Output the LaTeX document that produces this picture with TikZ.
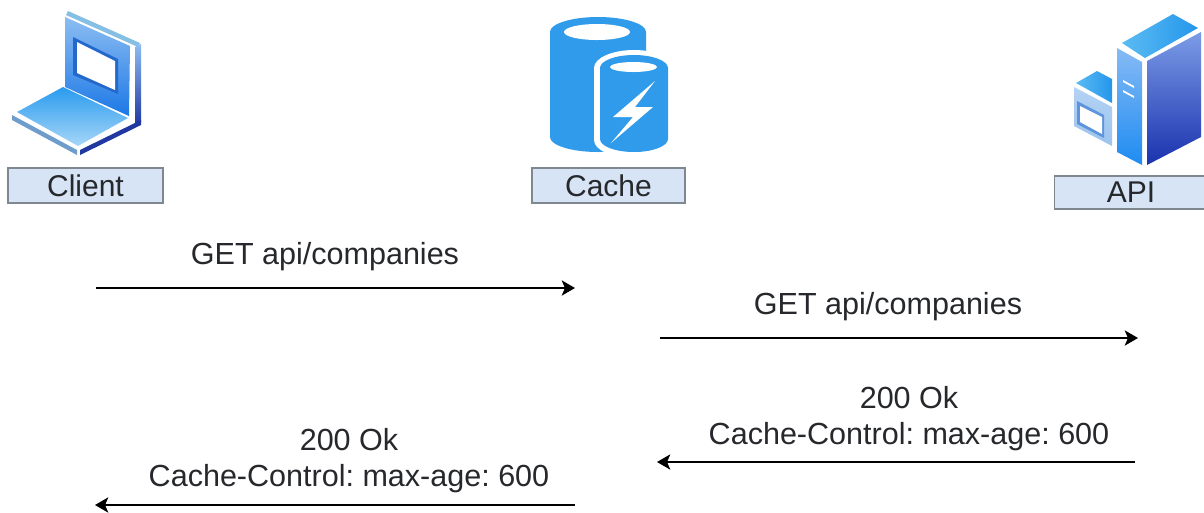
\documentclass[tikz,border=0pt]{standalone}
\usepackage{fontspec}
\setmainfont{Liberation Sans}
\usetikzlibrary{arrows.meta}
\frenchspacing
\definecolor{lbl}{HTML}{D6E4F6}
\definecolor{lblb}{HTML}{7F8890}
\definecolor{ink}{HTML}{26282C}
\definecolor{cyl}{HTML}{2F9BEA}
\definecolor{pantop}{HTML}{8CBDF2}
\definecolor{panbot}{HTML}{1C78E6}
\definecolor{winedge}{HTML}{2468CC}
\definecolor{keytop}{HTML}{2A9BEE}
\definecolor{keybot}{HTML}{A6D6F8}
\definecolor{striplt}{HTML}{86BFE4}
\definecolor{stripst}{HTML}{6E9CCB}
\definecolor{stripdk}{HTML}{2038A0}
\definecolor{towrt}{HTML}{7C9CE6}
\definecolor{towrb}{HTML}{1A32AE}
\definecolor{towlt}{HTML}{86BAF4}
\definecolor{towlb}{HTML}{1E8CF2}
\definecolor{towtl}{HTML}{5CBCF2}
\definecolor{towtr}{HTML}{2496EC}
\definecolor{smfront}{HTML}{B4D2F4}
\definecolor{smfrontb}{HTML}{9CC4EE}
\definecolor{smwin}{HTML}{5E94DC}
\tikzset{
  px/.style={x=0.75pt,y=-0.75pt},
  lblbox/.style={draw=lblb,fill=lbl,line width=0.9pt,text=ink,font=\fontsize{22.5}{24}\selectfont,inner sep=0pt,anchor=center},
  msg/.style={text=ink,font=\fontsize{22.9}{27}\selectfont,align=center,inner sep=0pt},
  flow/.style={draw=black,line width=0.9pt,-{Stealth[length=10pt,width=11.5pt,inset=2.5pt]}}
}
\begin{document}
\begin{tikzpicture}[px]
\useasboundingbox (0,0) rectangle (1204,512);
\fill[white] (0,0) rectangle (1204,512);
% --- client icon
\fill[striplt] (68,11) -- (140,43) -- (138,47) -- (66,15) -- cycle;
\shade[top color=pantop,bottom color=panbot] (65,17) -- (130,46) -- (129,116) -- (65,87) -- cycle;
\fill[winedge] (73,37) -- (118,59) -- (118,94) -- (73,75) -- cycle;
\fill[white] (77,42) -- (115,61) -- (115,90) -- (77,73) -- cycle;
\shade[top color=pantop,bottom color=stripdk] (135,47) -- (141,44) -- (141,122) -- (135,125) -- cycle;
\fill[stripdk] (80,150) -- (141,120) -- (141,125) -- (80,155) -- cycle;
\shade[top color=keytop,bottom color=keybot] (17,112) -- (63,87) -- (128,118) -- (78,146) -- cycle;
\fill[stripst] (12,115) -- (77,150) -- (77,155) -- (12,120) -- cycle;
\node[lblbox,minimum width=155*0.75pt,minimum height=35*0.75pt] (client) at (85.5,185.5) {Client};
% --- cache icon
\fill[cyl] (550,32) arc[start angle=180,end angle=360,x radius=48,y radius=15] -- (646,137) arc[start angle=0,end angle=180,x radius=48,y radius=15] -- cycle;
\fill[white] (597,32) ellipse[x radius=33,y radius=8];
\fill[white] (594,68) arc[start angle=180,end angle=360,x radius=40,y radius=18] -- (674,140) arc[start angle=0,end angle=180,x radius=40,y radius=18] -- cycle;
\fill[cyl] (600,68) arc[start angle=180,end angle=360,x radius=34,y radius=13] -- (668,139) arc[start angle=0,end angle=180,x radius=34,y radius=13] -- cycle;
\fill[white] (633.5,67) ellipse[x radius=23.5,y radius=5];
\fill[white] (655,81) -- (613,117) -- (633,117) -- (611,143) -- (653,107) -- (635,107) -- cycle;
\node[lblbox,minimum width=153*0.75pt,minimum height=35*0.75pt] (cache) at (608.5,185.5) {Cache};
% --- api icon
\shade[left color=towtl,right color=towtr] (1122,43) -- (1173,14) -- (1198,28) -- (1145,58) -- cycle;
\shade[top color=towlt,bottom color=towlb] (1117,48) -- (1142,62) -- (1142,165) -- (1117,152) -- cycle;
\fill[white] (1123,80) -- (1134,86) -- (1134,88) -- (1123,82) -- cycle;
\fill[white] (1123,90) -- (1134,96) -- (1134,98) -- (1123,92) -- cycle;
\shade[top color=towrt,bottom color=towrb] (1147,61) -- (1201,32) -- (1201,137) -- (1147,165) -- cycle;
\shade[left color=towtl,right color=towtr] (1076,83) -- (1097,71) -- (1112,79) -- (1112,103) -- cycle;
\shade[top color=smfront,bottom color=smfrontb] (1074,87) -- (1112,107) -- (1112,146) -- (1074,126) -- cycle;
\fill[smwin] (1077,101) -- (1104,115) -- (1104,138) -- (1077,124) -- cycle;
\fill[white] (1080,106) -- (1102,117) -- (1102,134) -- (1080,122) -- cycle;
\node[lblbox,minimum width=153*0.75pt,minimum height=33*0.75pt] (api) at (1131,192.5) {API};
% --- messages
\coordinate (a1) at (96,288); \coordinate (a2) at (575,288);
\coordinate (b1) at (660,338); \coordinate (b2) at (1138,338);
\coordinate (c1) at (1135,462); \coordinate (c2) at (657,462);
\coordinate (d1) at (575,505); \coordinate (d2) at (95,505);
\draw[flow] (a1) -- (a2);
\draw[flow] (b1) -- (b2);
\draw[flow] (c1) -- (c2);
\draw[flow] (d1) -- (d2);
\node[msg] (m1) at (325,257) {GET api/companies};
\node[msg] (m2) at (888,307) {GET api/companies};
\node[msg] (m3) at (909,419) {200 Ok\\Cache-Control: max-age: 600};
\node[msg] (m4) at (349,461) {200 Ok\\Cache-Control: max-age: 600};
\end{tikzpicture}
\end{document}
